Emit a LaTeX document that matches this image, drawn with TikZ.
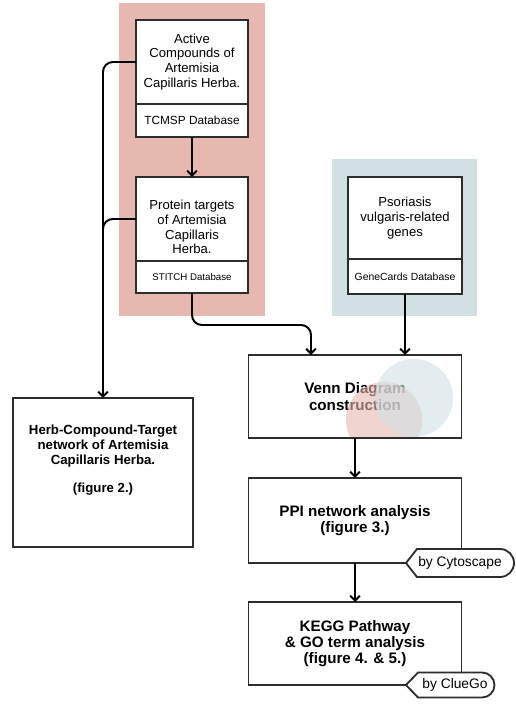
\documentclass[tikz,border=0pt]{standalone}
\usepackage{fontspec}
\setmainfont{Liberation Sans}
\usetikzlibrary{positioning}
\usetikzlibrary{arrows.meta}

\definecolor{herbred}{RGB}{231,184,176}
\definecolor{geneblue}{RGB}{209,224,227}
\definecolor{boxline}{RGB}{45,45,45}

\begin{document}
\begin{tikzpicture}[x=0.025cm, y=-0.025cm, line width=1pt,
    box/.style={draw=boxline, fill=white, line width=1.3pt, outer sep=0pt, inner sep=1pt, align=center},
    srcbox/.style={box, font=\fontsize{9.3}{10.6}\selectfont},
    dbbox/.style={box, font=\fontsize{8.4}{9}\selectfont},
    stepbox/.style={box, font=\bfseries\fontsize{10.8}{11.6}\selectfont, minimum width=5.325cm},
    link/.style={line width=1.4pt, rounded corners=7pt, -{Straight Barb[length=3.5pt,width=7pt]}},
    wire/.style={line width=1.4pt, rounded corners=7pt},
    tagline/.style={draw=boxline, fill=white, line width=1.3pt}]
    \useasboundingbox (0,0) rectangle (515,706);

    % draw coloured backgrounds
    \fill[herbred] (119,3) rectangle (265,316);
    \fill[geneblue] (332,159) rectangle (477,316);

    % draw source boxes
    \node[srcbox, minimum width=2.8cm, minimum height=2.1cm] (comp) at (192,62)
        {Active\\Compounds of\\Artemisia\\Capillaris Herba.};
    \node[dbbox, below=0pt of comp, minimum width=2.8cm, minimum height=0.825cm] (tcmsp) {TCMSP Database};
    \node[srcbox, minimum width=2.8cm, minimum height=2.1cm] (prot) at (192,219)
        {\rule{0pt}{18pt}Protein targets\\of Artemisia\\Capillaris\\Herba.};
    \node[dbbox, below=0pt of prot, minimum width=2.8cm, minimum height=0.8cm] (stitch) {\fontsize{6.9}{8}\selectfont STITCH Database};
    \node[srcbox, minimum width=2.85cm, minimum height=2.05cm] (genes) at (405,218)
        {Psoriasis\\vulgaris-related\\genes};
    \node[dbbox, below=0pt of genes, minimum width=2.85cm, minimum height=0.875cm] (genecards) {\fontsize{7.4}{8}\selectfont GeneCards Database};

    % draw analysis steps
    \node[box, font=\bfseries\fontsize{9.4}{10.6}\selectfont, minimum width=4.5cm, minimum height=3.725cm] (herb) at (103,472.5)
        {Herb-Compound-Target\\network of Artemisia\\Capillaris Herba.\\[9pt](figure 2.)\\[9pt]~};
    \node[stepbox, minimum height=2.075cm] (venn) at (355,396.5) {Venn Diagram\\construction};
    \node[stepbox, minimum height=2.125cm] (ppi) at (355,520.5) {PPI network analysis\\(figure 3.)};
    \node[stepbox, minimum height=2.075cm] (kegg) at (355,643.5) {KEGG Pathway\\\& GO term analysis\\(figure 4. \& 5.)};

    % draw venn circles over the text
    \begin{scope}
        \clip ([shift={(1pt,1pt)}]venn.south west) rectangle ([shift={(-1pt,-1pt)}]venn.north east);
        \fill[herbred, opacity=0.6] (384,420) circle [radius=0.95cm];
        \fill[geneblue, opacity=0.6] (414,398) circle [radius=0.975cm];
    \end{scope}

    % draw tool tags
    \draw[tagline] (406,563) -- (417,549) -- (500,549) arc [start angle=90, end angle=-90, radius=0.35cm]
                   -- (417,577) -- cycle;
    \node[font=\fontsize{9.8}{11}\selectfont] (cyto) at (460,563) {by Cytoscape};
    \draw[tagline] (406,685) -- (418,672.5) -- (482,672.5) arc [start angle=90, end angle=-90, radius=0.3125cm]
                   -- (418,697.5) -- cycle;
    \node[font=\fontsize{9.8}{11}\selectfont] (cluego) at (455,685) {by ClueGo};

    % draw connectors
    \coordinate (turn) at (250,325);
    \draw[link] (tcmsp) -- (prot);
    \draw[link] (comp.west) -| (herb.north);
    \draw[wire] (prot.west) -| ([yshift=15pt]herb.north);
    \draw[link] (stitch.south) |- (turn) -| ([xshift=-1.1cm]venn.north);
    \draw[link] (genecards.south) -- (genecards.south |- venn.north);
    \draw[link] (venn) -- (ppi);
    \draw[link] (ppi) -- (kegg);
\end{tikzpicture}
\end{document}
